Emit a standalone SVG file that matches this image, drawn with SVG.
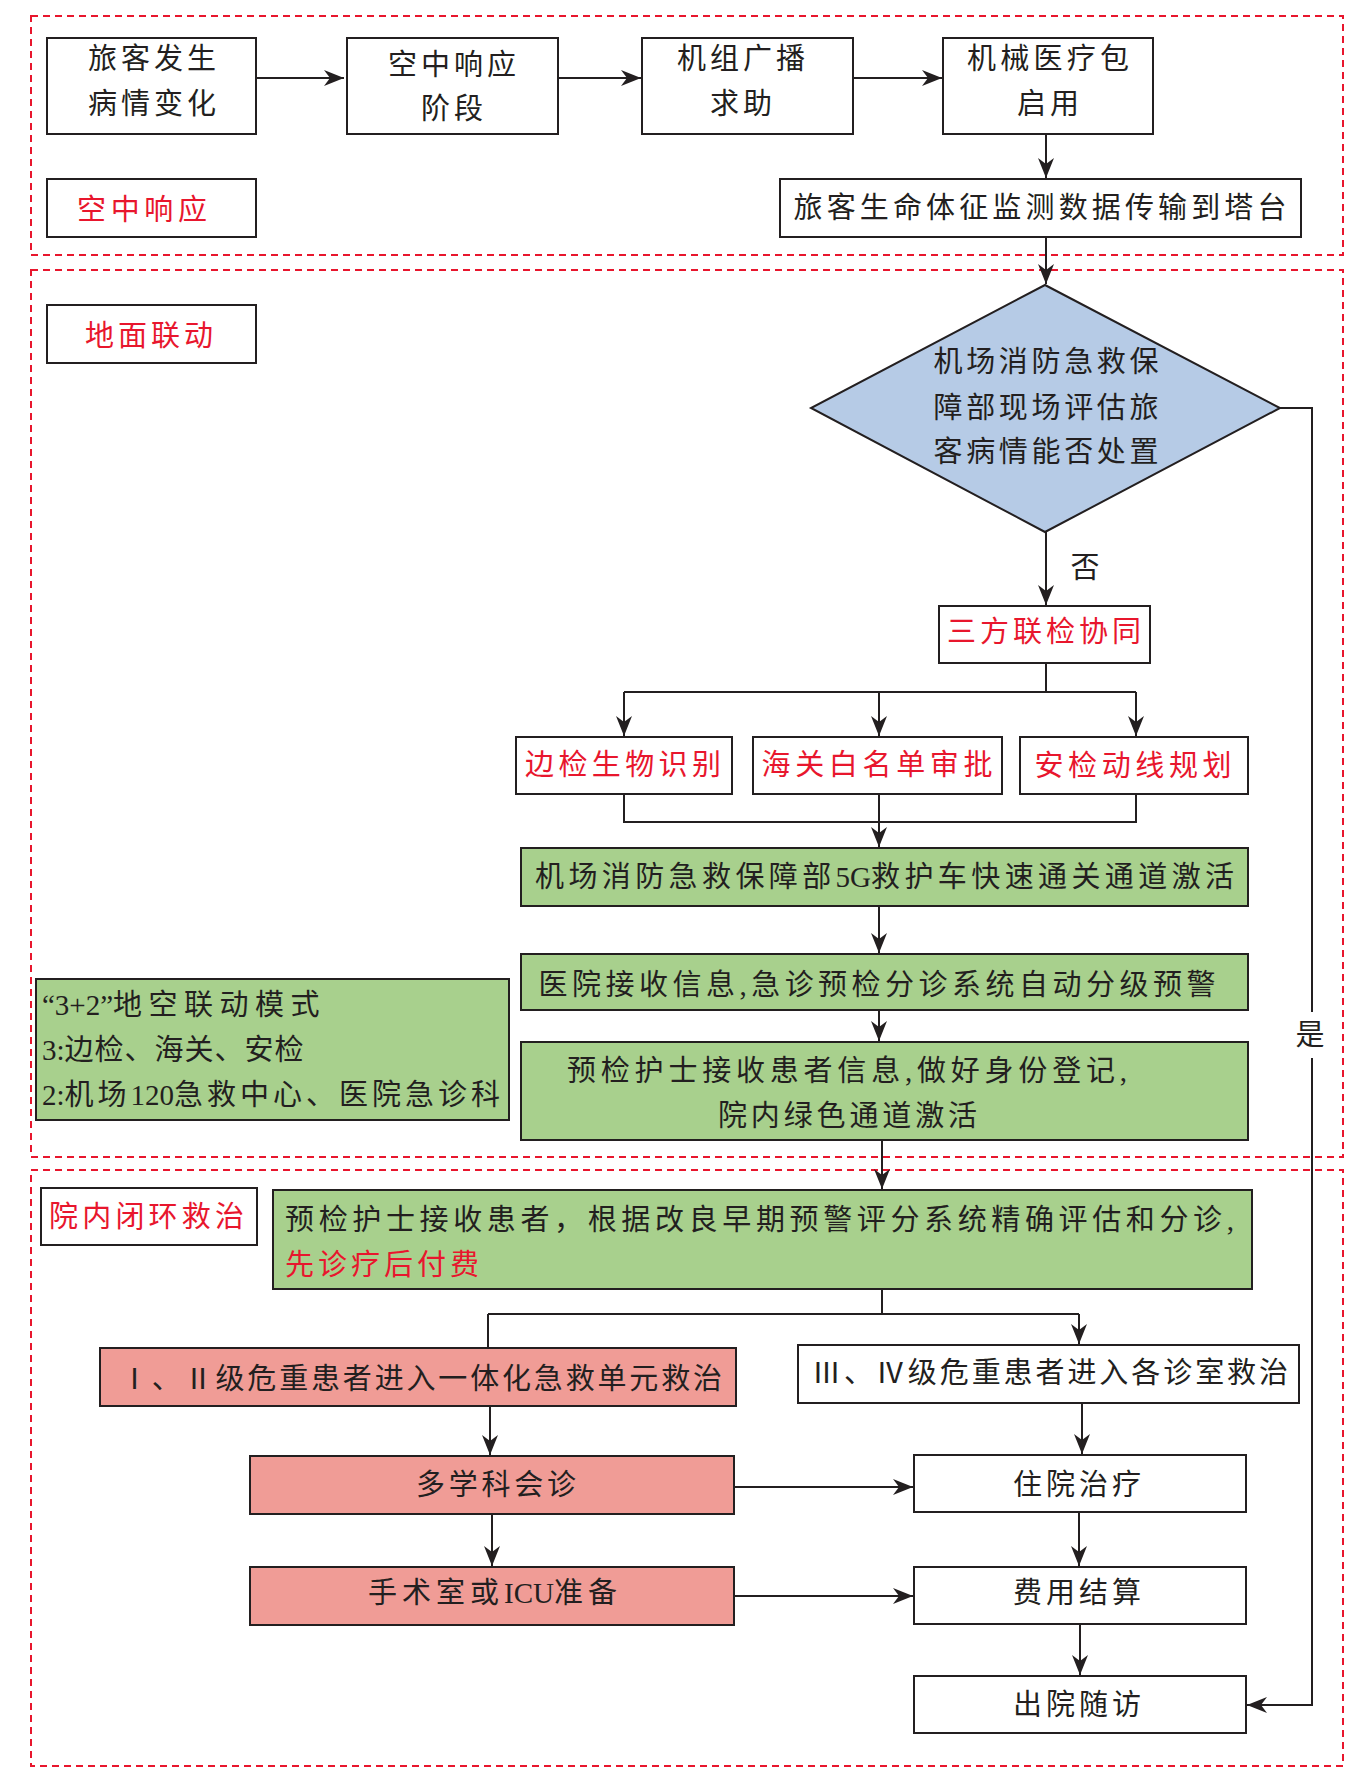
<svg xmlns="http://www.w3.org/2000/svg" width="1372" height="1786" viewBox="0 0 1372 1786">
<defs>
<marker id="ah" markerUnits="userSpaceOnUse" markerWidth="22" markerHeight="16" refX="20" refY="8" orient="auto">
<path d="M0,0 L20,8 L0,16 L6,8 z" fill="#231f20"/>
</marker>
<style>
.sec{fill:none;stroke:#e8162d;stroke-width:2;stroke-dasharray:7 5}
.bx{fill:#fff;stroke:#231f20;stroke-width:2}
.gr{fill:#a8d08d;stroke:#231f20;stroke-width:2}
.pk{fill:#f09c96;stroke:#231f20;stroke-width:2}
.dm{fill:#b6cbe6;stroke:#231f20;stroke-width:2}
.t{font-family:"Liberation Serif","Noto Sans CJK SC",serif;font-size:29px;fill:#231f20}
.c{text-anchor:middle}
.r{fill:#e8162d}
.ln{fill:none;stroke:#231f20;stroke-width:2}
.ar{fill:none;stroke:#231f20;stroke-width:2;marker-end:url(#ah)}
</style>
</defs>
<rect width="1372" height="1786" fill="#fff"/>
<g id="sections">
<rect class="sec" x="31" y="16" width="1312" height="239"/>
<rect class="sec" x="31" y="270" width="1312" height="887"/>
<rect class="sec" x="31" y="1170" width="1312" height="596"/>
</g>
<g id="connectors">
<path class="ar" d="M256,78 H344"/>
<path class="ar" d="M558,78 H641"/>
<path class="ar" d="M853,78 H942"/>
<path class="ar" d="M1046,134 V178"/>
<path class="ar" d="M1046,237 V284"/>
<path class="ar" d="M1046,532 V605"/>
<path class="ln" d="M1046,663 V692 M624,692 H1136"/>
<path class="ar" d="M624,692 V736"/>
<path class="ar" d="M879,692 V736"/>
<path class="ar" d="M1136,692 V736"/>
<path class="ln" d="M624,794 V822 H1136 V794"/>
<path class="ar" d="M879,794 V847"/>
<path class="ar" d="M879,906 V953"/>
<path class="ar" d="M879,1010 V1041"/>
<path class="ar" d="M882,1140 V1189"/>
<path class="ln" d="M882,1289 V1314 M488,1314 H1079 M488,1314 V1348"/>
<path class="ar" d="M1079,1314 V1344"/>
<path class="ar" d="M490,1406 V1455"/>
<path class="ar" d="M492,1514 V1566"/>
<path class="ar" d="M1082,1403 V1454"/>
<path class="ar" d="M734,1487 H913"/>
<path class="ar" d="M1079,1512 V1566"/>
<path class="ar" d="M734,1596 H913"/>
<path class="ar" d="M1080,1624 V1675"/>
<path class="ln" d="M1280,408 H1312 V1012"/>
<path class="ar" d="M1312,1058 V1705 H1247"/>
<text class="t c" x="1085" y="578">否</text>
<text class="t c" x="1310" y="1045">是</text>
</g>
<g id="n1"><rect class="bx" x="47" y="38" width="209" height="96"/>
<text class="t c" x="152" y="69" textLength="128">旅客发生</text><text class="t c" x="152" y="114" textLength="128">病情变化</text></g>
<g id="n2"><rect class="bx" x="347" y="38" width="211" height="96"/>
<text class="t c" x="452" y="75" textLength="128">空中响应</text><text class="t c" x="452" y="119" textLength="62">阶段</text></g>
<g id="n3"><rect class="bx" x="642" y="38" width="211" height="96"/>
<text class="t c" x="741" y="69" textLength="128">机组广播</text><text class="t c" x="741" y="114" textLength="62">求助</text></g>
<g id="n4"><rect class="bx" x="943" y="38" width="210" height="96"/>
<text class="t c" x="1048" y="69" textLength="162">机械医疗包</text><text class="t c" x="1048" y="114" textLength="62">启用</text></g>
<g id="lbl1"><rect class="bx" x="47" y="179" width="209" height="58"/>
<text class="t c r" x="142" y="220" textLength="130">空中响应</text></g>
<g id="n5"><rect class="bx" x="780" y="179" width="521" height="58"/>
<text class="t c" x="1040" y="218" textLength="493">旅客生命体征监测数据传输到塔台</text></g>
<g id="lbl2"><rect class="bx" x="47" y="305" width="209" height="58"/>
<text class="t c r" x="149" y="346" textLength="128">地面联动</text></g>
<g id="d1"><polygon class="dm" points="1045,285 1280,408 1045,532 811,408"/>
<text class="t c" x="1046" y="372" textLength="225">机场消防急救保</text>
<text class="t c" x="1046" y="418" textLength="225">障部现场评估旅</text>
<text class="t c" x="1046" y="462" textLength="225">客病情能否处置</text></g>
<g id="n6"><rect class="bx" x="939" y="606" width="211" height="57"/>
<text class="t c r" x="1044" y="642" textLength="194">三方联检协同</text></g>
<g id="n7"><rect class="bx" x="516" y="737" width="216" height="57"/>
<text class="t c r" x="623" y="775" textLength="196">边检生物识别</text></g>
<g id="n8"><rect class="bx" x="753" y="737" width="249" height="57"/>
<text class="t c r" x="877" y="775" textLength="231">海关白名单审批</text></g>
<g id="n9"><rect class="bx" x="1020" y="737" width="228" height="57"/>
<text class="t c r" x="1133" y="776" textLength="197">安检动线规划</text></g>
<g id="n10"><rect class="gr" x="521" y="848" width="727" height="58"/>
<text class="t" x="535" y="887"><tspan letter-spacing="4.4">机场消防急救保障部</tspan><tspan letter-spacing="0">5G</tspan><tspan letter-spacing="4.4">救护车快速通关通道激活</tspan></text></g>
<g id="n11"><rect class="gr" x="521" y="954" width="727" height="56"/>
<text class="t c" x="877" y="995" textLength="677">医院接收信息,急诊预检分诊系统自动分级预警</text></g>
<g id="n12"><rect class="gr" x="521" y="1042" width="727" height="98"/>
<text class="t" x="567" y="1081" textLength="560">预检护士接收患者信息,做好身份登记,</text>
<text class="t" x="718" y="1126" textLength="259">院内绿色通道激活</text></g>
<g id="note"><rect class="gr" x="36" y="979" width="473" height="141"/>
<text class="t" x="42" y="1015"><tspan letter-spacing="0">“3+2”</tspan><tspan letter-spacing="6.5">地空联动模式</tspan></text>
<text class="t" x="42" y="1060"><tspan letter-spacing="0">3:</tspan><tspan letter-spacing="1">边检、海关、安检</tspan></text>
<text class="t" x="42" y="1105"><tspan letter-spacing="0">2:</tspan><tspan letter-spacing="4">机场</tspan><tspan letter-spacing="0">120</tspan><tspan letter-spacing="4">急救中心、医院急诊科</tspan></text></g>
<g id="lbl3"><rect class="bx" x="41" y="1188" width="216" height="57"/>
<text class="t r" x="49" y="1227" textLength="195">院内闭环救治</text></g>
<g id="n13"><rect class="gr" x="273" y="1190" width="979" height="99"/>
<text class="t" x="285" y="1230" textLength="949">预检护士接收患者，根据改良早期预警评分系统精确评估和分诊,</text>
<text class="t r" x="285" y="1275" textLength="194">先诊疗后付费</text></g>
<g id="n14"><rect class="pk" x="100" y="1348" width="636" height="58"/>
<text class="t" x="120" y="1389" textLength="602">Ⅰ、Ⅱ级危重患者进入一体化急救单元救治</text></g>
<g id="n15"><rect class="bx" x="798" y="1345" width="501" height="58"/>
<text class="t" x="812" y="1383" textLength="476">Ⅲ、Ⅳ级危重患者进入各诊室救治</text></g>
<g id="n16"><rect class="pk" x="250" y="1456" width="484" height="58"/>
<text class="t c" x="496" y="1495" textLength="160">多学科会诊</text></g>
<g id="n17"><rect class="bx" x="914" y="1455" width="332" height="57"/>
<text class="t c" x="1077" y="1495" textLength="128">住院治疗</text></g>
<g id="n18"><rect class="pk" x="250" y="1567" width="484" height="58"/>
<text class="t" x="368" y="1603"><tspan letter-spacing="5">手术室或</tspan><tspan letter-spacing="0">ICU</tspan><tspan letter-spacing="5">准备</tspan></text></g>
<g id="n19"><rect class="bx" x="914" y="1567" width="332" height="57"/>
<text class="t c" x="1077" y="1603" textLength="128">费用结算</text></g>
<g id="n20"><rect class="bx" x="914" y="1676" width="332" height="57"/>
<text class="t c" x="1077" y="1715" textLength="128">出院随访</text></g>
</svg>
